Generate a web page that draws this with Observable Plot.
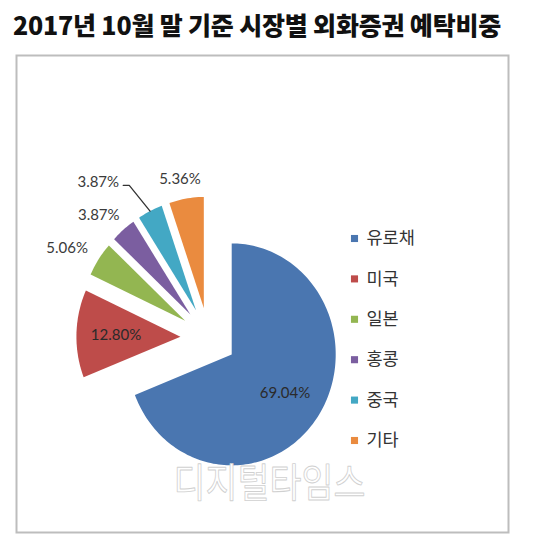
<!DOCTYPE html>
<html>
<head>
<meta charset="utf-8">
<script src="https://cdn.jsdelivr.net/npm/d3@7"></script>
<script src="https://cdn.jsdelivr.net/npm/@observablehq/plot@0.6"></script>
<style>
  html, body { margin: 0; padding: 0; background: #fff; }
  #title { width: 514px; height: 45px; line-height: 48px; text-align: center;
           font-family: "Noto Sans CJK KR", sans-serif; font-weight: 900; font-size: 25px;
           color: #111; white-space: nowrap; letter-spacing: -0.2px; }
</style>
</head>
<body>
<div id="title">2017년 10월 말 기준 시장별 외화증권 예탁비중</div>
<div id="chart"></div>
<script>
// ---- data ----
const categories = ["유로채", "미국", "일본", "홍콩", "중국", "기타"];
const shares = [69.04, 12.80, 5.06, 3.87, 3.87, 5.36];
const labels = ["69.04%", "12.80%", "5.06%", "3.87%", "3.87%", "5.36%"];
const watermark = "디지털타임스";

// ---- style / layout ----
const colors = ["#4a76b0", "#be4c4a", "#93b651", "#7b5ea0", "#43a8c4", "#ea8b3f"];
const W = 540, H = 498;
const CX = 208, CY = 292, RX = 104, RY = 111;   // pie centre & radius in px
const mL = 16, mR = 32, mT = 10, mB = 11;
const explode = 0.27;           // slice explosion (radius units)
const insideR = 0.62;           // inside labels, from the slice apex
const outLX = 1.635, outLY = 1.447; // outside-label ellipse
const cyanNudge = {dx: -35, dy: -11};

const xDomain = [(mL - CX) / RX, (W - mR - CX) / RX];
const yDomain = [-(H - mB - CY) / RY, (CY - mT) / RY];

const total = d3.sum(shares);
const cum = d3.cumsum(shares);
const slices = categories.map((name, i) => {
  const a0 = 2 * Math.PI * (cum[i] - shares[i]) / total;
  const a1 = 2 * Math.PI * cum[i] / total;
  const mid = (a0 + a1) / 2;
  return {name, i, a0, a1, mid, label: labels[i],
          ox: explode * Math.sin(mid), oy: explode * Math.cos(mid)};
});

// polygon vertices of each exploded wedge
const verts = [];
for (const s of slices) {
  const n = Math.max(8, Math.ceil((s.a1 - s.a0) / (Math.PI / 120)));
  verts.push({name: s.name, x: s.ox, y: s.oy});
  for (let k = 0; k <= n; k++) {
    const t = s.a0 + (s.a1 - s.a0) * k / n;
    verts.push({name: s.name, x: s.ox + Math.sin(t), y: s.oy + Math.cos(t)});
  }
  verts.push({name: s.name, x: s.ox, y: s.oy});
}

const insideLabels = slices.filter(s => s.i < 2).map(s => ({
  text: s.label,
  x: s.ox + insideR * Math.sin(s.mid),
  y: s.oy + insideR * Math.cos(s.mid)
}));
const outsideAll = slices.filter(s => s.i >= 2).map(s => ({
  name: s.name, text: s.label,
  x: outLX * Math.sin(s.mid), y: outLY * Math.cos(s.mid), mid: s.mid, s
}));
const outsideLabels = outsideAll.filter(d => d.name !== "중국");
const cyan = outsideAll.find(d => d.name === "중국");
const cyanLabel = [{text: cyan.text,
  x: cyan.x + cyanNudge.dx / RX, y: cyan.y - cyanNudge.dy / RY}];
// leader line: label right end -> elbow -> wedge arc midpoint
const leader = [
  {x: cyanLabel[0].x + 25 / RX, y: cyanLabel[0].y - 3 / RY},
  {x: cyanLabel[0].x + 31 / RX, y: cyanLabel[0].y - 3 / RY},
  {x: cyan.s.ox + Math.sin(cyan.mid), y: cyan.s.oy + Math.cos(cyan.mid)}
];

// legend (right side)
const legX = (354 - CX) / RX, legTX = (366 - CX) / RX;
const legTop = (CY - 193) / RY, legStep = 40.4 / RY;
const legend = categories.map((name, i) => ({name, x: legX, tx: legTX, y: legTop - i * legStep}));

const wm = [{text: watermark, x: (269 - CX) / RX, y: (CY - 439) / RY}];

const chart = Plot.plot({
  width: W, height: H,
  marginLeft: mL, marginRight: mR, marginTop: mT, marginBottom: mB,
  x: {domain: xDomain, axis: null},
  y: {domain: yDomain, axis: null},
  color: {domain: categories, range: colors},
  style: {fontFamily: "Lato, sans-serif", background: "#fff", overflow: "visible"},
  marks: [
    Plot.frame({stroke: "#bdbdbd", strokeWidth: 2}),
    Plot.line(verts, {x: "x", y: "y", z: "name", fill: "name", stroke: "none", curve: "linear"}),
    Plot.text(insideLabels, {x: "x", y: "y", text: "text", fill: "#2a2a2a", fontSize: 15}),
    Plot.text(outsideLabels, {x: "x", y: "y", text: "text", fill: "#3a3a3a", fontSize: 15}),
    Plot.text(cyanLabel, {x: "x", y: "y", text: "text", fill: "#3a3a3a", fontSize: 15}),
    Plot.line(leader, {x: "x", y: "y", stroke: "#333", strokeWidth: 1.3}),
    Plot.dot(legend, {x: "x", y: "y", symbol: "square", r: 4, fill: "name", stroke: "none"}),
    Plot.text(legend, {x: "tx", y: "y", text: "name", textAnchor: "start", fill: "#333",
      fontSize: 17.5, fontFamily: "Noto Sans CJK KR, sans-serif"}),
    Plot.text(wm, {x: "x", y: "y", text: "text", fontSize: 40, fill: "#fff", stroke: "#d0d0d0",
      strokeWidth: 0.9, paintOrder: "normal", fontFamily: "Noto Sans CJK KR, sans-serif",
      className: "wm"})
  ]
});
document.getElementById("chart").appendChild(chart);
d3.select(chart).selectAll(".wm text").attr("textLength", 192).attr("lengthAdjust", "spacingAndGlyphs");
</script>
</body>
</html>
